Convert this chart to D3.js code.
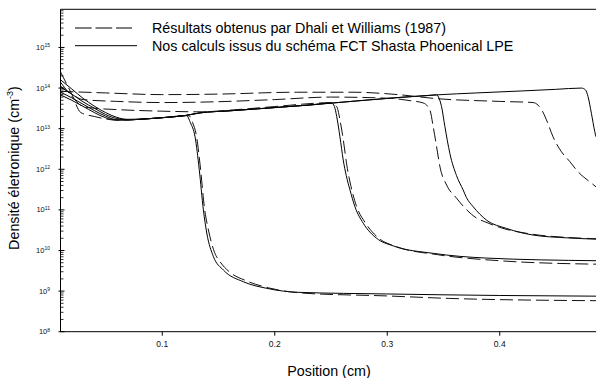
<!DOCTYPE html>
<html><head><meta charset="utf-8">
<script src="https://cdn.jsdelivr.net/npm/d3@7"></script>
<style>body{margin:0;background:#fff}svg{display:block}</style>
</head><body>
<script>
// ---- data ----
const xTicks = [0.1, 0.2, 0.3, 0.4];
const xTickLabels = ["0.1", "0.2", "0.3", "0.4"];
const yTickExps = [8, 9, 10, 11, 12, 13, 14, 15];
const legendLabels = ["Résultats obtenus par Dhali et Williams (1987)",
  "Nos calculs issus du schéma FCT Shasta Phoenical LPE"];
const xLabel = "Position (cm)";
const yLabel = "Densité életronique (cm";

// Our calculations (solid), [position, density]
const solid1 = [[0.01,6.8e13],[0.02,5.0e13],[0.03,3.55e13],[0.04,2.5e13],[0.05,1.86e13],[0.061,1.62e13],[0.07,1.64e13],[0.08,1.7e13],[0.10,1.86e13],[0.122,2.1e13],[0.1255,1.4e13],[0.1296,6.3e12],[0.1333,1.0e12],[0.137,1.0e11],[0.140,2.7e10],[0.1459,7.1e9],[0.1548,3.3e9],[0.1725,1.7e9],[0.1933,1.17e9],[0.2229,9.3e8],[0.30,8.5e8],[0.40,7.8e8],[0.486,7.5e8]];
const solid2 = [[0.01,7.9e13],[0.02,5.75e13],[0.03,4.0e13],[0.04,2.8e13],[0.05,2.04e13],[0.06,1.66e13],[0.07,1.64e13],[0.08,1.7e13],[0.10,1.86e13],[0.12,2.09e13],[0.134,2.45e13],[0.16,2.75e13],[0.20,3.3e13],[0.23,3.8e13],[0.251,4.27e13],[0.2535,3.5e13],[0.2555,2.0e13],[0.2584,6.3e12],[0.2613,1.7e12],[0.264,7.0e11],[0.2673,3.1e11],[0.2717,1.2e11],[0.2791,4.7e10],[0.291,2.0e10],[0.3057,1.3e10],[0.3413,8.5e9],[0.3887,6.5e9],[0.486,5.6e9]];
const solid3 = [[0.01,1.05e14],[0.02,7.1e13],[0.03,4.6e13],[0.04,3.2e13],[0.05,2.24e13],[0.06,1.78e13],[0.07,1.66e13],[0.08,1.7e13],[0.10,1.86e13],[0.12,2.09e13],[0.134,2.45e13],[0.16,2.75e13],[0.20,3.3e13],[0.23,3.8e13],[0.251,4.27e13],[0.28,5.0e13],[0.312,5.9e13],[0.335,6.5e13],[0.3443,6.8e13],[0.3465,5.6e13],[0.3487,3.5e13],[0.3517,1.12e13],[0.3561,2.45e12],[0.362,7.0e11],[0.3679,3.1e11],[0.3709,2.0e11],[0.3768,1.2e11],[0.3887,5.6e10],[0.4064,3.5e10],[0.4301,2.4e10],[0.46,2.05e10],[0.486,1.9e10]];
const solid4 = [[0.01,1.6e14],[0.02,9.5e13],[0.03,5.6e13],[0.04,3.6e13],[0.05,2.5e13],[0.06,1.9e13],[0.07,1.7e13],[0.08,1.72e13],[0.10,1.86e13],[0.12,2.09e13],[0.134,2.45e13],[0.16,2.75e13],[0.20,3.3e13],[0.23,3.8e13],[0.251,4.27e13],[0.28,5.0e13],[0.312,5.9e13],[0.3443,6.8e13],[0.38,7.6e13],[0.42,8.5e13],[0.45,9.3e13],[0.473,1.0e14],[0.4765,9.1e13],[0.4789,6.2e13],[0.4819,2.4e13],[0.4849,8.5e12],[0.486,6.3e12]];

// Dhali & Williams (dashed)
const dashed1 = [[0.01,2.5e14],[0.02,7.1e13],[0.028,2.5e13],[0.04,2.0e13],[0.05,1.74e13],[0.06,1.62e13],[0.08,1.7e13],[0.10,1.86e13],[0.124,2.1e13],[0.1275,1.4e13],[0.131,6.3e12],[0.1345,1.0e12],[0.138,1.1e11],[0.1415,3.2e10],[0.147,8.9e9],[0.152,5.2e9],[0.16,3.0e9],[0.175,1.8e9],[0.195,1.2e9],[0.226,8.9e8],[0.30,7.6e8],[0.356,6.6e8],[0.486,5.8e8]];
const dashed2 = [[0.01,1.4e14],[0.02,6.3e13],[0.03,3.5e13],[0.04,3.2e13],[0.06,2.95e13],[0.10,2.7e13],[0.134,2.6e13],[0.17,3.0e13],[0.20,3.5e13],[0.235,4.2e13],[0.25,4.4e13],[0.2555,3.5e13],[0.2585,1.6e13],[0.2615,5.0e12],[0.2645,1.26e12],[0.268,4.0e11],[0.273,1.26e11],[0.281,4.8e10],[0.293,2.0e10],[0.308,1.26e10],[0.345,7.9e9],[0.40,5.6e9],[0.486,4.6e9]];
const dashed3 = [[0.01,1.12e14],[0.02,7.1e13],[0.03,5.2e13],[0.06,4.7e13],[0.10,4.4e13],[0.134,4.5e13],[0.20,5.2e13],[0.25,6.0e13],[0.3028,5.6e13],[0.3206,4.9e13],[0.3324,4.3e13],[0.3383,2.9e13],[0.3413,1.12e13],[0.3443,3.6e12],[0.3473,1.15e12],[0.3532,4.1e11],[0.362,1.95e11],[0.3694,1.12e11],[0.3798,6.3e10],[0.3872,5.1e10],[0.4005,3.7e10],[0.4301,2.5e10],[0.46,2.1e10],[0.486,1.95e10]];
const dashed4 = [[0.01,8.3e13],[0.05,7.6e13],[0.10,6.9e13],[0.15,7.1e13],[0.22,7.9e13],[0.27,7.9e13],[0.31,6.9e13],[0.344,5.5e13],[0.40,4.7e13],[0.43,4.4e13],[0.4345,3.8e13],[0.4387,2.6e13],[0.443,1.4e13],[0.4478,6.3e12],[0.4553,2.7e12],[0.4627,1.55e12],[0.470,8.7e11],[0.4805,4.9e11],[0.486,3.7e11]];

const solidSeries = [solid1, solid2, solid3, solid4];
const dashedSeries = [dashed1, dashed2, dashed3, dashed4];

// ---- layout ----
const W = 596, H = 378;
const L = 60.5, R = 596, T = 9.3, B = 331.7;
const svg = d3.select("body").append("svg").attr("width", W).attr("height", H);

const x = d3.scaleLinear().domain([0.01, 0.486]).range([L, R]);
const y = d3.scaleLog().domain([1e8, Math.pow(10, 15.94)]).range([B, T]);

const font = "'Liberation Sans', Arial, sans-serif";

svg.append("defs").append("clipPath").attr("id", "clip")
  .append("rect").attr("x", L).attr("y", T).attr("width", R - L).attr("height", B - T);

// frame
svg.append("line").attr("x1", L).attr("x2", R).attr("y1", T).attr("y2", T).attr("stroke", "#000").attr("stroke-width", 1);

// x axis
const xAxis = d3.axisBottom(x).tickValues(xTicks).tickSize(4).tickPadding(5)
  .tickFormat((d, i) => xTickLabels[i]);
const gx = svg.append("g").attr("transform", `translate(0,${B})`).call(xAxis);
gx.select(".domain").attr("d", `M${L},0H${R}`);
gx.selectAll("text").attr("font-family", font).attr("font-size", 8.5).attr("fill", "#111");

// y axis
const minor = [];
for (let e = 8; e <= 15; e++) for (let k = 2; k <= 9; k++) {
  const v = k * Math.pow(10, e);
  if (v < y.domain()[1]) minor.push(v);
}
const gy = svg.append("g");
gy.append("line").attr("x1", L).attr("x2", L).attr("y1", T).attr("y2", B).attr("stroke", "#000");
gy.selectAll("line.minor").data(minor).join("line").attr("class", "minor")
  .attr("x1", L).attr("x2", L + 3).attr("y1", d => y(d)).attr("y2", d => y(d)).attr("stroke", "#000").attr("stroke-width", 0.8);
gy.selectAll("line.major").data(yTickExps).join("line").attr("class", "major")
  .attr("x1", L - 2).attr("x2", L + 4).attr("y1", d => y(Math.pow(10, d))).attr("y2", d => y(Math.pow(10, d))).attr("stroke", "#000");
const yl = gy.selectAll("text.yl").data(yTickExps).join("text").attr("class", "yl")
  .attr("x", 50).attr("y", d => y(Math.pow(10, d)) + 2.5)
  .attr("text-anchor", "end").attr("font-family", font).attr("fill", "#111");
yl.append("tspan").attr("font-size", 7.5).text("10");
yl.append("tspan").attr("font-size", 5).attr("dy", -2.5).text(d => d);

// curves
const line = d3.line().x(d => x(d[0])).y(d => y(d[1])).curve(d3.curveMonotoneX);
const plot = svg.append("g").attr("clip-path", "url(#clip)");
plot.selectAll("path.solid").data(solidSeries).join("path").attr("class", "solid")
  .attr("d", line).attr("fill", "none").attr("stroke", "#000").attr("stroke-width", 1);
plot.selectAll("path.dashed").data(dashedSeries).join("path").attr("class", "dashed")
  .attr("d", line).attr("fill", "none").attr("stroke", "#111").attr("stroke-width", 1)
  .attr("stroke-dasharray", "13,5");

// legend
const lg = svg.append("g");
lg.append("line").attr("x1", 75).attr("x2", 132).attr("y1", 28).attr("y2", 28)
  .attr("stroke", "#000").attr("stroke-dasharray", "16.7,3.8");
lg.append("line").attr("x1", 75).attr("x2", 137).attr("y1", 45.7).attr("y2", 45.7).attr("stroke", "#000");
lg.selectAll("text").data(legendLabels).join("text")
  .attr("x", 152).attr("y", (d, i) => 28 + i * 17.7 + 5)
  .attr("font-family", font).attr("font-size", 14.3).attr("fill", "#000").text(d => d);

// axis titles
svg.append("text").attr("x", 329).attr("y", 376).attr("text-anchor", "middle")
  .attr("font-family", font).attr("font-size", 14.3).text(xLabel);
const yt = svg.append("text").attr("transform", "translate(19,168) rotate(-90)")
  .attr("text-anchor", "middle").attr("font-family", font).attr("font-size", 14.3);
yt.append("tspan").text(yLabel);
yt.append("tspan").attr("font-size", 9).attr("dy", -6).text("-3");
yt.append("tspan").attr("dy", 6).text(")");
</script>
</body></html>
